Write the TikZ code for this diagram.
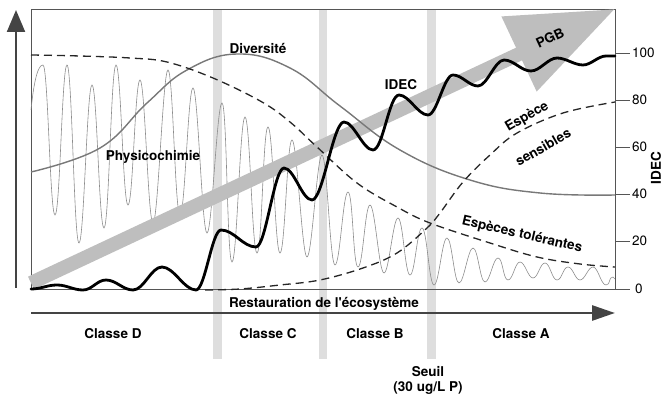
\documentclass[tikz,border=0pt]{standalone}
\usepackage{fontspec}
\setmainfont{TeX Gyre Heros}[Ligatures=TeXOff]
\usetikzlibrary{arrows.meta}
\definecolor{bandgray}{HTML}{DEDEDE}
\definecolor{pgbgray}{HTML}{BEBEBE}
\definecolor{physgray}{HTML}{8C8C8C}
\definecolor{divgray}{HTML}{787878}
\definecolor{axisgray}{HTML}{444444}
\definecolor{framegray}{HTML}{555555}
\begin{document}
\begin{tikzpicture}[x=1pt,y=-1pt,
  lab/.style={font=\fontsize{13.5}{16}\selectfont\bfseries, inner sep=0pt},
  num/.style={font=\fontsize{13.5}{16}\selectfont, inner sep=0pt, anchor=west},
  vband/.style={fill=bandgray, draw=none},
  dashcurve/.style={black!85, line width=1.3, dash pattern=on 8pt off 5pt},
  axisarrow/.style={axisgray, line width=2.2}
]
\useasboundingbox (0,0) rectangle (665,398);
% vertical bands
\fill[vband] (213,9) rectangle (222,359);
\fill[vband] (319,9) rectangle (327,359);
\fill[vband] (427,9) rectangle (436,359);
% frame
\draw[framegray, line width=0.8] (31,9) rectangle (615,289);
% ticks
\foreach \v/\yy in {100/53, 80/100, 60/147, 40/194, 20/241, 0/289} {
  \draw[framegray, line width=0.8] (615,\yy) -- (630,\yy);
}
\foreach \v/\yy in {100/53, 80/100, 60/147, 40/194, 20/241} {
  \node[num] (t\v) at (632,\yy) {\v};
}
\node[num] (t0) at (635,289) {0};
% physicochimie oscillation
\draw[physgray, line width=0.6] (31,110) .. controls +(3,-30) and +(-5,0) .. (43,65)
  foreach \px/\py in {55/215, 67/65, 79/243, 92/85, 104/228, 116/65, 128/205, 140/80, 153/223, 168/70, 180/215, 193/88, 207/233, 222/103, 232/262, 245/117, 257/253, 268/127, 280/253, 292/140, 307/257, 322/155, 335/265, 348/192, 358/267, 370/205, 384/273, 398/218, 410/275, 422/228, 434/285, 447/238, 459/283, 473/248, 485/282, 498/258, 508/280, 520/262, 533/278, 545/263, 557/280, 568/267, 580/280, 593/267, 606/285, 613/277}
  { .. controls +(5,0) and +(-5,0) .. (\px,\py) } -- (615,279);
% PGB arrow
\draw[pgbgray, line width=14, -{Triangle[length=106pt,width=79pt]}] (31,283) -- (615,9);
% diversite
\draw[divgray, line width=1.4] plot[smooth, tension=0.7] coordinates {(31,172) (100,148) (147,103) (187,70) (237,54) (290,68) (340,106) (400,150) (470,180) (540,193) (615,195)};
% especes tolerantes
\draw[dashcurve] plot[smooth, tension=0.6] coordinates {(31,55) (80,56) (130,58) (167,62) (213,78) (262,102) (290,122) (317,147) (357,183) (397,207) (430,223) (490,243) (537,257) (580,264) (615,267)};
% especes sensibles
\draw[dashcurve] plot[smooth, tension=0.6] coordinates {(205,290) (240,289) (280,285) (320,280) (363,268) (397,253) (427,228) (440,213) (463,182) (490,155) (517,133) (563,113) (615,102)};
% IDEC curve
\draw[black, line width=2.8, line join=round, line cap=round] (31,289)
  foreach \px/\py/\dd in {57/285/10, 83/290/10, 106/280/9, 133/290/10, 162/267/11, 196/290/12, 221/230/9, 256/247/13, 284/168/10, 312/200/10, 344/122/11, 373/150/10, 399/95/10, 428/115/10, 453/75/9, 478/86/9, 504/60/9, 531/71/10, 557/58/9, 583/65/9, 606/56/8, 615/56/3}
  { .. controls +(\dd,0) and +(-\dd,0) .. (\px,\py) };
% axes
\draw[axisarrow, -{Triangle[length=22pt,width=18pt]}] (16,288) -- (16,10);
\draw[axisarrow, line width=2.8, -{Triangle[length=23pt,width=15pt]}] (31,313) -- (615,313);
% labels
\node[lab] (div) at (258,48) {Diversité};
\node[lab] (phys) at (153,157) {Physicochimie};
\node[lab] (idec) at (401,85) {IDEC};
\node[lab, rotate=25] (pgb) at (550,38) {PGB};
\node[lab, rotate=30] (esp) at (527,117) {Espèce};
\node[lab, rotate=30] (sens) at (543,147) {sensibles};
\node[lab, rotate=-13] (tol) at (522,235) {Espèces tolérantes};
\node[lab] (rest) at (324,304) {Restauration de l'écosystème};
\node[lab] (cD) at (113,334) {Classe D};
\node[lab] (cC) at (268,334) {Classe C};
\node[lab] (cB) at (375,334) {Classe B};
\node[lab] (cA) at (521,334) {Classe A};
\node[lab] (seuil) at (428,372) {Seuil};
\node[lab] (seuilv) at (428,388) {(30 ug/L P)};
\node[lab, rotate=90] (ylab) at (656,168) {IDEC};
\end{tikzpicture}
\end{document}
